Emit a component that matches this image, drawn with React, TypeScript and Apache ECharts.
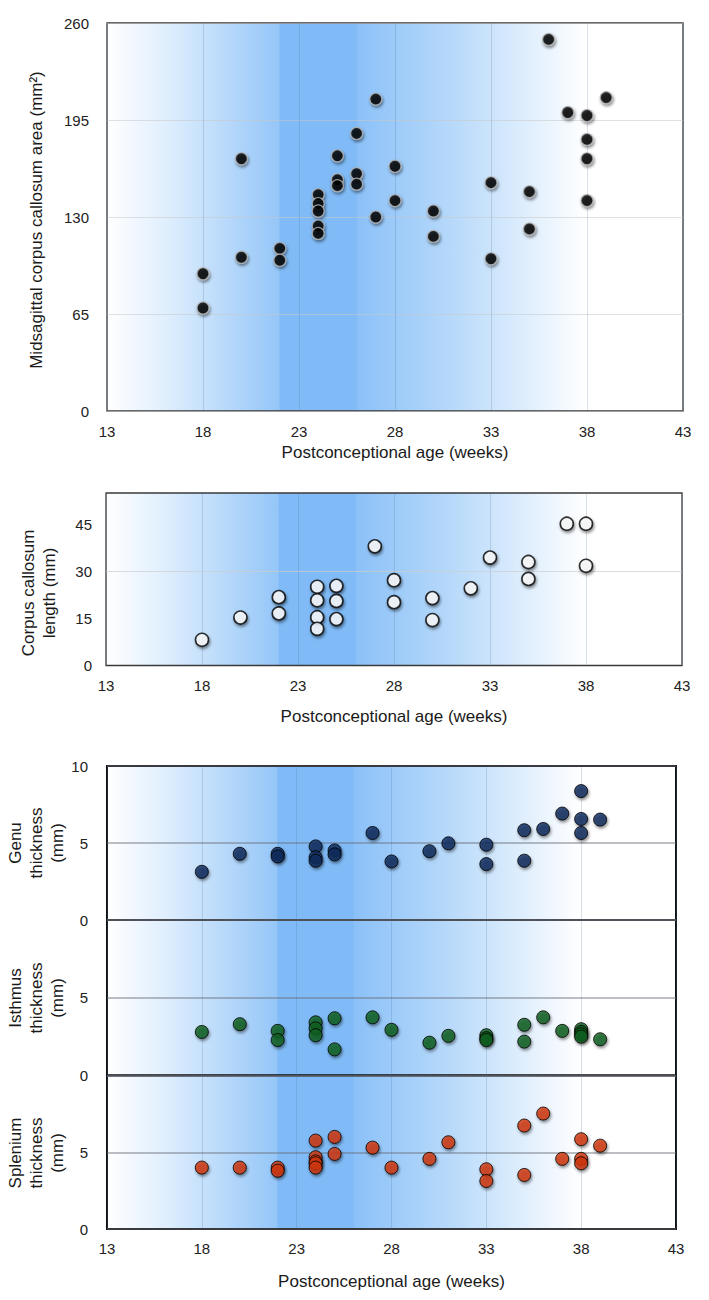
import React, { useEffect, useRef } from "react";
import * as echarts from "echarts";

// ---- data ----
const xTicks = [13, 18, 23, 28, 33, 38, 43];
const areaPoints = [
  [18, 92], [18, 69], [20, 169], [20, 103], [22, 109], [22, 101],
  [24, 145], [24, 139], [24, 134], [24, 124], [24, 119],
  [25, 171], [25, 155], [25, 151], [26, 186], [26, 159], [26, 152],
  [27, 209], [27, 130], [28, 164], [28, 141], [30, 134], [30, 117],
  [33, 153], [33, 102], [35, 147], [35, 122], [36, 249], [37, 200],
  [38, 198], [38, 182], [38, 169], [38, 141], [39, 210],
];
const lengthPoints = [
  [18, 8.2], [20, 15.3], [22, 21.8], [22, 16.6],
  [24, 25.1], [24, 20.8], [24, 15.4], [24, 11.7],
  [25, 25.4], [25, 20.6], [25, 14.8], [27, 38], [28, 27.2], [28, 20.2],
  [30, 21.5], [30, 14.5], [32, 24.6], [33, 34.4], [35, 33], [35, 27.6],
  [37, 45.2], [38, 45.2], [38, 31.8],
];
const genuPoints = [
  [18, 3.13], [20, 4.3], [22, 4.3], [22, 4.13], [24, 4.78], [24, 4.08], [24, 3.85],
  [25, 4.52], [25, 4.26], [27, 5.65], [28, 3.8], [30, 4.47], [31, 4.98],
  [33, 4.89], [33, 3.63], [35, 5.83], [35, 3.85], [36, 5.91], [37, 6.91],
  [38, 8.37], [38, 6.56], [38, 5.65], [39, 6.52],
];
const isthmusPoints = [
  [18, 2.8], [20, 3.3], [22, 2.87], [22, 2.28], [24, 3.42], [24, 3.03], [24, 2.59],
  [25, 3.68], [25, 1.68], [27, 3.74], [28, 2.94], [30, 2.11], [31, 2.55],
  [33, 2.59], [33, 2.4], [33, 2.28], [35, 3.26], [35, 2.18], [36, 3.74], [37, 2.87],
  [38, 2.98], [38, 2.8], [38, 2.65], [38, 2.5], [39, 2.33],
];
const spleniumPoints = [
  [18, 4.0], [20, 4.0], [22, 4.0], [22, 3.8], [24, 5.76], [24, 4.68], [24, 4.4],
  [24, 4.28], [24, 4.0], [25, 6.0], [25, 4.89], [27, 5.3], [28, 4.0], [30, 4.57],
  [31, 5.65], [33, 3.89], [33, 3.13], [35, 6.74], [35, 3.52], [36, 7.52], [37, 4.57],
  [38, 5.85], [38, 4.57], [38, 4.28], [39, 5.43],
];
const lengthRefLine = 30;

const FONT = '"Liberation Sans", Arial, Helvetica, sans-serif';

const bgGradient = {
  type: "linear",
  x: 0, y: 0, x2: 1, y2: 0,
  colorStops: [
    { offset: 0, color: "#ffffff" },
    { offset: 0.1, color: "#e0effd" },
    { offset: 0.299, color: "#95c6f8" },
    { offset: 0.3, color: "#80bbf7" },
    { offset: 0.433, color: "#80bbf7" },
    { offset: 0.434, color: "#8bc1f8" },
    { offset: 0.6, color: "#b7d9fa" },
    { offset: 0.833, color: "#ffffff" },
    { offset: 1, color: "#ffffff" },
  ],
};

const shadow = {
  shadowBlur: 3,
  shadowColor: "rgba(0,0,0,0.55)",
  shadowOffsetX: 1,
  shadowOffsetY: 2,
};

export default function App() {
  const ref = useRef<HTMLDivElement>(null);
  useEffect(() => {
    document.body.style.margin = "0";
    const chart = echarts.init(ref.current!, undefined, { renderer: "svg" });

    const grids = [
      { left: 107, top: 23, width: 576, height: 388, borderColor: "#3a3a3a", borderWidth: 1.3 },
      { left: 106, top: 493, width: 576, height: 172.5, borderColor: "#3a3a3a", borderWidth: 1.3 },
      { left: 107, top: 766, width: 569, height: 154, borderColor: "#111", borderWidth: 2 },
      { left: 107, top: 920, width: 569, height: 155.5, borderColor: "#111", borderWidth: 2 },
      { left: 107, top: 1075.5, width: 569, height: 153.5, borderColor: "#111", borderWidth: 2 },
    ].map((g) => ({ ...g, show: true, backgroundColor: bgGradient, containLabel: false }));

    const xAxisBase = (gi: number, showLabels: boolean, nameGap: number, margin: number) => ({
      type: "value",
      gridIndex: gi,
      min: xTicks[0],
      max: xTicks[xTicks.length - 1],
      interval: 5,
      axisLine: { show: false },
      axisTick: { show: false },
      axisLabel: { show: showLabels, fontFamily: FONT, fontSize: 15, color: "#222", margin },
      splitLine: { show: true, lineStyle: { color: "rgba(70,110,160,0.22)", width: 1 } },
      name: showLabels ? "Postconceptional age (weeks)" : "",
      nameLocation: "middle",
      nameGap,
      nameTextStyle: { fontFamily: FONT, fontSize: 17, color: "#1a1a1a" },
    });

    const yAxisBase = (gi: number, max: number, interval: number, showMax: boolean, margin: number, splitColor: string, splitWidth: number, showSplit = true) => ({
      type: "value",
      gridIndex: gi,
      min: 0,
      max,
      interval,
      axisLine: { show: false },
      axisTick: { show: false },
      axisLabel: { fontFamily: FONT, fontSize: 15, color: "#222", margin, showMaxLabel: showMax },
      splitLine: { show: showSplit, lineStyle: { color: splitColor, width: splitWidth } },
    });

    const scatter = (gi: number, data: number[][], size: number, itemStyle: any, extra: any = {}) => ({
      type: "scatter",
      xAxisIndex: gi,
      yAxisIndex: gi,
      data,
      symbolSize: size,
      itemStyle: { ...itemStyle, ...shadow },
      ...extra,
    });

    const titleText = (text: string, x: number, y: number) => ({
      type: "text",
      x,
      y,
      rotation: Math.PI / 2,
      style: {
        text,
        font: `17px ${FONT}`,
        fill: "#1a1a1a",
        textAlign: "center",
        textVerticalAlign: "middle",
        align: "center",
        verticalAlign: "middle",
        lineHeight: 21,
      },
    });

    chart.setOption({
      animation: false,
      grid: grids,
      xAxis: [
        xAxisBase(0, true, 33, 13),
        xAxisBase(1, true, 42, 12.5),
        xAxisBase(2, false, 0, 10),
        xAxisBase(3, false, 0, 10),
        xAxisBase(4, true, 44, 11.5),
      ],
      yAxis: [
        yAxisBase(0, 260, 65, true, 18, "rgba(200,200,200,0.55)", 1),
        yAxisBase(1, 55, 15, false, 14, "rgba(0,0,0,0)", 1, false),
        yAxisBase(2, 10, 5, true, 19, "rgba(105,110,120,0.6)", 1.6),
        yAxisBase(3, 10, 5, false, 19, "rgba(105,110,120,0.6)", 1.6),
        yAxisBase(4, 10, 5, false, 19, "rgba(105,110,120,0.6)", 1.6),
      ],
      series: [
        scatter(0, areaPoints, 12, { color: "#000", borderColor: "#b5b5b5", borderWidth: 1.2 }),
        scatter(1, lengthPoints, 13, { color: "#fff", borderColor: "#000", borderWidth: 1.6 }, {
          markLine: {
            silent: true,
            symbol: "none",
            label: { show: false },
            lineStyle: { color: "rgba(205,205,205,0.7)", type: "solid", width: 1 },
            data: [{ yAxis: lengthRefLine }],
            z: 1,
          },
        }),
        scatter(2, genuPoints, 13, { color: "#0b2a5c", borderColor: "#000", borderWidth: 1 }),
        scatter(3, isthmusPoints, 13, { color: "#14601f", borderColor: "#000", borderWidth: 1 }),
        scatter(4, spleniumPoints, 13, { color: "#d2380a", borderColor: "#000", borderWidth: 1 }),
      ],
      graphic: [
        titleText("Midsagittal corpus callosum area (mm²)", 36, 220),
        titleText("Corpus callosum\nlength (mm)", 39, 593),
        titleText("Genu\nthickness\n(mm)", 36, 843),
        titleText("Isthmus\nthickness\n(mm)", 36, 998),
        titleText("Splenium\nthickness\n(mm)", 36, 1153),
      ],
    });
    return () => chart.dispose();
  }, []);
  return <div ref={ref} style={{ width: 709, height: 1300 }} />;
}
